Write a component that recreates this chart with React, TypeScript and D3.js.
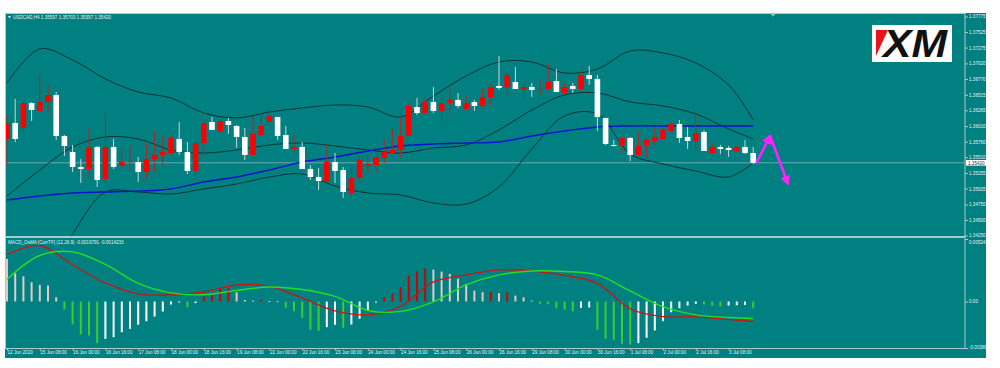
import React, { useRef, useEffect } from 'react';
import * as d3 from 'd3';

// USDCAD H4, 12 Jun 2020 16:00 .. 3 Jul 2020 20:00 (92 bars)
const dateLabels = [
  '12 Jun 2020', '15 Jun 08:00', '16 Jun 00:00', '16 Jun 16:00', '17 Jun 08:00', '18 Jun 00:00',
  '18 Jun 16:00', '19 Jun 08:00', '22 Jun 00:00', '22 Jun 16:00', '23 Jun 08:00', '24 Jun 00:00',
  '24 Jun 16:00', '25 Jun 08:00', '26 Jun 00:00', '26 Jun 16:00', '29 Jun 08:00', '30 Jun 00:00',
  '30 Jun 16:00', '1 Jul 08:00', '2 Jul 00:00', '2 Jul 16:00', '3 Jul 08:00',
];

const opens = [
  1.35804, 1.36061, 1.35981, 1.36383, 1.36254, 1.36399, 1.36512, 1.35852, 1.35594, 1.35353,
  1.35321, 1.35675, 1.35160, 1.35675, 1.35369, 1.35433, 1.35433, 1.35272, 1.35482, 1.35546,
  1.35578, 1.35804, 1.35594, 1.35288, 1.35739, 1.36077, 1.35916, 1.36093, 1.36013, 1.35836,
  1.35546, 1.35868, 1.36077, 1.36158, 1.35868, 1.35643, 1.35675, 1.35321, 1.35192, 1.35111,
  1.35433, 1.35305, 1.34934, 1.35176, 1.35369, 1.35385, 1.35498, 1.35578, 1.35627, 1.35852,
  1.36319, 1.36222, 1.36399, 1.36254, 1.36383, 1.36432, 1.36287, 1.36399, 1.36335, 1.36480,
  1.36657, 1.36641, 1.36721, 1.36593, 1.36641, 1.36593, 1.36609, 1.36737, 1.36544, 1.36657,
  1.36609, 1.36834, 1.36770, 1.36142, 1.35707, 1.35691, 1.35820, 1.35546, 1.35707, 1.35771,
  1.35804, 1.35932, 1.36045, 1.35836, 1.35771, 1.35916, 1.35578, 1.35675, 1.35659, 1.35610,
  1.35675, 1.35578,
];
const highs = [
  1.36190, 1.36448, 1.36399, 1.36399, 1.36850, 1.36673, 1.36560, 1.35868, 1.35707, 1.35482,
  1.35981, 1.35691, 1.36222, 1.35804, 1.35627, 1.35691, 1.35514, 1.35739, 1.35932, 1.35852,
  1.35852, 1.36077, 1.35755, 1.35755, 1.36142, 1.36158, 1.36093, 1.36142, 1.36029, 1.35981,
  1.36158, 1.36158, 1.36287, 1.36158, 1.36013, 1.35884, 1.35755, 1.35385, 1.35337, 1.35707,
  1.35578, 1.35353, 1.35337, 1.35578, 1.35546, 1.35578, 1.35804, 1.35965, 1.36158, 1.36383,
  1.36464, 1.36496, 1.36641, 1.36544, 1.36689, 1.36544, 1.36496, 1.36432, 1.36609, 1.36705,
  1.37140, 1.36882, 1.36963, 1.36705, 1.36705, 1.36754, 1.37027, 1.36931, 1.36705, 1.36705,
  1.36915, 1.36979, 1.36834, 1.36142, 1.35788, 1.35820, 1.35836, 1.35916, 1.35804, 1.35997,
  1.35997, 1.36061, 1.36110, 1.35997, 1.36238, 1.35949, 1.35739, 1.35707, 1.35691, 1.35707,
  1.35788, 1.35675,
];
const lows = [
  1.35369, 1.35755, 1.35949, 1.36093, 1.36238, 1.36222, 1.35788, 1.35530, 1.35272, 1.35095,
  1.35176, 1.35031, 1.35095, 1.35321, 1.35337, 1.35305, 1.35111, 1.35160, 1.35272, 1.35385,
  1.35546, 1.35546, 1.35240, 1.35192, 1.35578, 1.35949, 1.35916, 1.35884, 1.35659, 1.35466,
  1.35546, 1.35852, 1.36061, 1.35788, 1.35643, 1.35578, 1.35321, 1.35144, 1.34983, 1.35111,
  1.35095, 1.34854, 1.34854, 1.35095, 1.35256, 1.35272, 1.35417, 1.35562, 1.35514, 1.35852,
  1.36190, 1.36174, 1.36222, 1.36061, 1.36206, 1.36303, 1.36271, 1.36254, 1.36319, 1.36351,
  1.36593, 1.36496, 1.36609, 1.36448, 1.36480, 1.36496, 1.36593, 1.36560, 1.36528, 1.36544,
  1.36593, 1.36673, 1.35932, 1.35707, 1.35675, 1.35578, 1.35449, 1.35530, 1.35514, 1.35707,
  1.35788, 1.35900, 1.35739, 1.35643, 1.35594, 1.35610, 1.35562, 1.35562, 1.35514, 1.35594,
  1.35562, 1.35401,
];
const closes = [
  1.36061, 1.35804, 1.36383, 1.36271, 1.36399, 1.36512, 1.35852, 1.35691, 1.35353, 1.35321,
  1.35675, 1.35144, 1.35675, 1.35353, 1.35433, 1.35449, 1.35272, 1.35482, 1.35546, 1.35594,
  1.35820, 1.35594, 1.35288, 1.35739, 1.36061, 1.35949, 1.36093, 1.36029, 1.35836, 1.35546,
  1.35884, 1.36013, 1.36174, 1.35852, 1.35643, 1.35675, 1.35321, 1.35192, 1.35127, 1.35433,
  1.35288, 1.34950, 1.35176, 1.35466, 1.35401, 1.35514, 1.35594, 1.35627, 1.35852, 1.36335,
  1.36222, 1.36399, 1.36254, 1.36383, 1.36432, 1.36335, 1.36383, 1.36335, 1.36480, 1.36641,
  1.36625, 1.36834, 1.36609, 1.36641, 1.36593, 1.36609, 1.36721, 1.36560, 1.36641, 1.36609,
  1.36834, 1.36770, 1.36158, 1.35723, 1.35691, 1.35820, 1.35546, 1.35691, 1.35788, 1.35836,
  1.35949, 1.36045, 1.35820, 1.35771, 1.35900, 1.35610, 1.35675, 1.35643, 1.35627, 1.35675,
  1.35578, 1.35420,
];

// indicator lines, read every 4th bar
const lineBars = [0, 4, 8, 12, 16, 20, 24, 28, 32, 36, 40, 44, 48, 52, 56, 60, 64, 68, 72, 76, 80, 84, 88, 91];
const bbUpper = [
  1.36705, 1.37253, 1.37076, 1.36770, 1.36560, 1.36464, 1.36222, 1.36142, 1.36238, 1.36303, 1.36351, 1.36319,
  1.36158, 1.36496, 1.36818, 1.37043, 1.37043, 1.36866, 1.36931, 1.37220, 1.37188, 1.37027, 1.36673, 1.36110,
];
const bbMiddle = [
  1.34886, 1.35305, 1.35675, 1.35836, 1.35804, 1.35627, 1.35578, 1.35627, 1.35707, 1.35739, 1.35691, 1.35627,
  1.35578, 1.35659, 1.35707, 1.35949, 1.36271, 1.36512, 1.36544, 1.36399, 1.36335, 1.36206, 1.35965, 1.35804,
];
const bbLower = [
  1.33067, 1.33356, 1.34274, 1.34950, 1.34950, 1.34918, 1.34999, 1.35079, 1.35192, 1.35240, 1.35047, 1.34934,
  1.34902, 1.34773, 1.34757, 1.35031, 1.35643, 1.36174, 1.36206, 1.35562, 1.35401, 1.35288, 1.35192, 1.35417,
];
const maBlue = [
  1.34822, 1.34886, 1.34934, 1.34950, 1.34966, 1.34999, 1.35111, 1.35192, 1.35305, 1.35433, 1.35514, 1.35610,
  1.35691, 1.35723, 1.35739, 1.35755, 1.35852, 1.35932, 1.35997, 1.36013, 1.36013, 1.36013, 1.36013, 1.36013,
];

const osma = [
  0.00358, 0.00237, 0.00212, 0.00162, 0.00140, 0.00134, 0.00036, -0.00067, -0.00193, -0.00277,
  -0.00285, -0.00349, -0.00313, -0.00299, -0.00257, -0.00229, -0.00195, -0.00165, -0.00126, -0.00084,
  -0.00025, -0.00004, -0.00048, -0.00013, 0.00044, 0.00070, 0.00106, 0.00111, 0.00078, 0.00013,
  0.00008, 0.00013, 0.00004, 0.00002, -0.00053, -0.00081, -0.00137, -0.00237, -0.00247, -0.00215,
  -0.00195, -0.00220, -0.00193, -0.00145, -0.00075, -0.00008, 0.00036, 0.00065, 0.00120, 0.00218,
  0.00251, 0.00279, 0.00268, 0.00251, 0.00232, 0.00190, 0.00148, 0.00092, 0.00078, 0.00081,
  0.00070, 0.00078, 0.00050, 0.00036, 0.00008, -0.00019, -0.00023, -0.00056, -0.00067, -0.00081,
  -0.00053, -0.00050, -0.00237, -0.00313, -0.00321, -0.00354, -0.00360, -0.00349, -0.00304, -0.00243,
  -0.00165, -0.00090, -0.00056, -0.00034, -0.00019, -0.00025, -0.00036, -0.00042, -0.00034, -0.00031,
  -0.00028, -0.00056,
];
const macdMain = [
  0.00396, 0.00470, 0.00307, 0.00156, 0.00064, 0.00055, 0.00080, 0.00139, 0.00127, 0.00030, -0.00079, -0.00112,
  -0.00041, 0.00164, 0.00223, 0.00265, 0.00256, 0.00219, 0.00153, -0.00062, -0.00127, -0.00129, -0.00150, -0.00168,
];
const macdSignal = [
  0.00187, 0.00386, 0.00416, 0.00311, 0.00152, 0.00072, 0.00057, 0.00093, 0.00122, 0.00101, 0.00043, -0.00075,
  -0.00083, -0.00003, 0.00139, 0.00223, 0.00256, 0.00252, 0.00223, 0.00089, -0.00043, -0.00112, -0.00134, -0.00142,
];

const priceTicks = [
  1.37775, 1.37525, 1.37275, 1.37020, 1.36770, 1.36515, 1.36265, 1.36010,
  1.35760, 1.35510, 1.35255, 1.35005, 1.34750, 1.34500, 1.34250,
];
const macdTicks = [0.005243, 0, -0.003899];
const macdTickLabels = ['0.005243', '0.00', '-0.003899'];

// hand-drawn forecast arrows (bar index, price)
const forecastUp = [{ bar: 91.4, price: 1.3542 }, { bar: 93, price: 1.3584 }];
const forecastDown = [{ bar: 93.1, price: 1.3584 }, { bar: 95.2, price: 1.35095 }];

const FONT = 'Liberation Sans, Arial, sans-serif';
const TXT = '#e8f2f2';
const FRAME = '#a8cccc';

const App: React.FC = () => {
  const svgRef = useRef<SVGSVGElement | null>(null);

  useEffect(() => {
    const svg = d3.select(svgRef.current!);
    svg.selectAll('*').remove();

    const x = d3.scaleLinear().domain([0, 91]).range([7, 753.2]);
    const y = d3.scaleLinear().domain([1.3425, 1.37775]).range([235.5, 16.5]);
    const ym = d3.scaleLinear().domain([-0.003899, 0.005243]).range([348, 239]);

    const defs = svg.append('defs');
    defs.append('clipPath').attr('id', 'clipPrice')
      .append('rect').attr('x', 6).attr('y', 14).attr('width', 959).attr('height', 222);
    defs.append('clipPath').attr('id', 'clipMacd')
      .append('rect').attr('x', 6).attr('y', 238).attr('width', 959).attr('height', 110);
    defs.append('clipPath').attr('id', 'clipAll')
      .append('rect').attr('x', 0).attr('y', 0).attr('width', 986).attr('height', 368);
    defs.append('marker')
      .attr('id', 'ah')
      .attr('viewBox', '0 0 10 10')
      .attr('refX', 7).attr('refY', 5)
      .attr('markerWidth', 10).attr('markerHeight', 10)
      .attr('markerUnits', 'userSpaceOnUse')
      .attr('orient', 'auto')
      .append('path').attr('d', 'M0,0 L10,5 L0,10 z').attr('fill', '#ff22ff');

    const root = svg.append('g').attr('clip-path', 'url(#clipAll)');

    // background
    root.append('rect').attr('x', 5).attr('y', 13).attr('width', 981).attr('height', 345).attr('fill', '#008080');

    // pane frames
    root.append('rect').attr('x', 5.5).attr('y', 13.5).attr('width', 959.5).attr('height', 223)
      .attr('fill', 'none').attr('stroke', FRAME);
    root.append('rect').attr('x', 5.5).attr('y', 237.5).attr('width', 959.5).attr('height', 111)
      .attr('fill', 'none').attr('stroke', FRAME);

    // ---- price pane ----
    const pp = root.append('g').attr('clip-path', 'url(#clipPrice)');

    pp.append('line')
      .attr('x1', 6).attr('x2', 965)
      .attr('y1', y(closes[closes.length - 1])).attr('y2', y(closes[closes.length - 1]))
      .attr('stroke', '#9fbdbd').attr('stroke-width', 0.7);

    const band = d3.line<number>()
      .x((_, k) => x(lineBars[k]))
      .y((d) => y(d))
      .curve(d3.curveCatmullRom);

    [bbUpper, bbMiddle, bbLower].forEach((s) => {
      pp.append('path').attr('d', band(s)!).attr('fill', 'none')
        .attr('stroke', '#0c3434').attr('stroke-width', 1);
    });
    pp.append('path').attr('d', band(maBlue)!).attr('fill', 'none')
      .attr('stroke', '#0a14c8').attr('stroke-width', 1.4);

    const idx = d3.range(opens.length);
    const bull = (i: number) => closes[i] > opens[i];

    pp.append('g').selectAll('line')
      .data(idx).enter().append('line')
      .attr('x1', (i) => x(i)).attr('x2', (i) => x(i))
      .attr('y1', (i) => y(highs[i])).attr('y2', (i) => y(lows[i]))
      .attr('stroke', (i) => (bull(i) ? '#b02828' : '#c6d8d8'))
      .attr('stroke-width', 1);

    pp.append('g').selectAll('rect')
      .data(idx).enter().append('rect')
      .attr('x', (i) => x(i) - 2.8)
      .attr('width', 5.6)
      .attr('y', (i) => y(Math.max(opens[i], closes[i])))
      .attr('height', (i) => Math.max(1, Math.abs(y(opens[i]) - y(closes[i]))))
      .attr('fill', (i) => (bull(i) ? '#ff0000' : '#ffffff'));

    const fLine = d3.line<{ bar: number; price: number }>()
      .x((d) => x(d.bar)).y((d) => y(d.price));
    [forecastUp, forecastDown].forEach((seg) => {
      pp.append('path').attr('d', fLine(seg)!)
        .attr('fill', 'none').attr('stroke', '#ff22ff').attr('stroke-width', 2.6)
        .attr('marker-end', 'url(#ah)');
    });

    // XM logo
    root.append('rect').attr('x', 872).attr('y', 25).attr('width', 80).attr('height', 37).attr('fill', '#ffffff');
    root.append('polygon').attr('points', '876,30 888,30 876,56').attr('fill', '#e8141c');
    root.append('text').attr('x', 883).attr('y', 57)
      .attr('font-family', FONT).attr('font-size', 38).attr('font-weight', 900).attr('font-style', 'italic')
      .attr('textLength', 64).attr('lengthAdjust', 'spacingAndGlyphs')
      .attr('fill', '#111111').text('XM');

    // header
    root.append('polygon').attr('points', '8,16 11,16 9.5,18.6').attr('fill', TXT);
    root.append('text').attr('x', 13).attr('y', 19)
      .attr('font-family', FONT).attr('font-size', 4.6).attr('fill', TXT)
      .text('USDCAD,H4  1.35597 1.35703 1.35397 1.35420');
    root.append('polygon').attr('points', '770,13.5 776,13.5 773,16.5').attr('fill', '#9fbdbd');

    // price axis
    const pa = root.append('g').attr('transform', 'translate(965,0)')
      .call(d3.axisRight(y).tickValues(priceTicks).tickFormat(d3.format('.5f')).tickSize(3).tickPadding(1));
    pa.select('.domain').remove();
    pa.selectAll('line').attr('stroke', FRAME);
    pa.selectAll('text').attr('font-family', FONT).attr('font-size', 4.6).attr('fill', TXT);

    root.append('rect').attr('x', 966).attr('y', y(closes[91]) - 2.8).attr('width', 21).attr('height', 5.6)
      .attr('fill', '#ffffff');
    root.append('text').attr('x', 968).attr('y', y(closes[91]) + 1.7)
      .attr('font-family', FONT).attr('font-size', 4.6).attr('fill', '#0b3b3b')
      .text(d3.format('.5f')(closes[91]));

    // ---- MACD pane ----
    const mp = root.append('g').attr('clip-path', 'url(#clipMacd)');
    const barColor = (i: number) => {
      const v = osma[i];
      const prev = i > 0 ? osma[i - 1] : Infinity;
      if (v >= 0) return v >= prev ? '#d40000' : '#e6c6c6';
      return v < prev ? '#3ccc2c' : '#ffffff';
    };
    mp.append('g').selectAll('rect')
      .data(idx).enter().append('rect')
      .attr('x', (i) => x(i) - 1)
      .attr('width', 2)
      .attr('y', (i) => ym(Math.max(0, osma[i])))
      .attr('height', (i) => Math.max(1, Math.abs(ym(osma[i]) - ym(0))))
      .attr('fill', (i) => barColor(i));

    mp.append('path').attr('d', band.y((d) => ym(d))(macdMain)!)
      .attr('fill', 'none').attr('stroke', '#c81818').attr('stroke-width', 1.4);
    mp.append('path').attr('d', band.y((d) => ym(d))(macdSignal)!)
      .attr('fill', 'none').attr('stroke', '#22e022').attr('stroke-width', 1.4);

    root.append('text').attr('x', 8).attr('y', 244)
      .attr('font-family', FONT).attr('font-size', 4.6).attr('fill', TXT)
      .text('MACD_OsMA [CurrTF] (12,26,9) -0.0016791 -0.0014233');

    const ma = root.append('g').attr('transform', 'translate(965,0)')
      .call(d3.axisRight(ym).tickValues(macdTicks)
        .tickFormat((_, i) => macdTickLabels[i]).tickSize(3).tickPadding(1));
    ma.select('.domain').remove();
    ma.selectAll('line').attr('stroke', FRAME);
    ma.selectAll('text').attr('font-family', FONT).attr('font-size', 4.6).attr('fill', TXT);
    ma.selectAll('.tick').filter((_, i) => i === 0).select('text').attr('dy', '0.9em');
    ma.selectAll('.tick').filter((_, i) => i === 2).select('text').attr('dy', '0em');

    // time axis
    const ta = root.append('g').attr('transform', 'translate(0,348.5)')
      .call(d3.axisBottom(x).tickValues(d3.range(0, 89, 4))
        .tickFormat((_, i) => dateLabels[i]).tickSize(2).tickPadding(0.6));
    ta.select('.domain').remove();
    ta.selectAll('line').attr('stroke', FRAME);
    ta.selectAll('text').attr('font-family', FONT).attr('font-size', 4.6).attr('fill', TXT)
      .attr('text-anchor', 'start');
  }, []);

  return (
    <svg
      ref={svgRef}
      width={1000}
      height={368}
      style={{ position: 'absolute', left: 0, top: 0, background: '#ffffff' }}
    />
  );
};

export default App;
